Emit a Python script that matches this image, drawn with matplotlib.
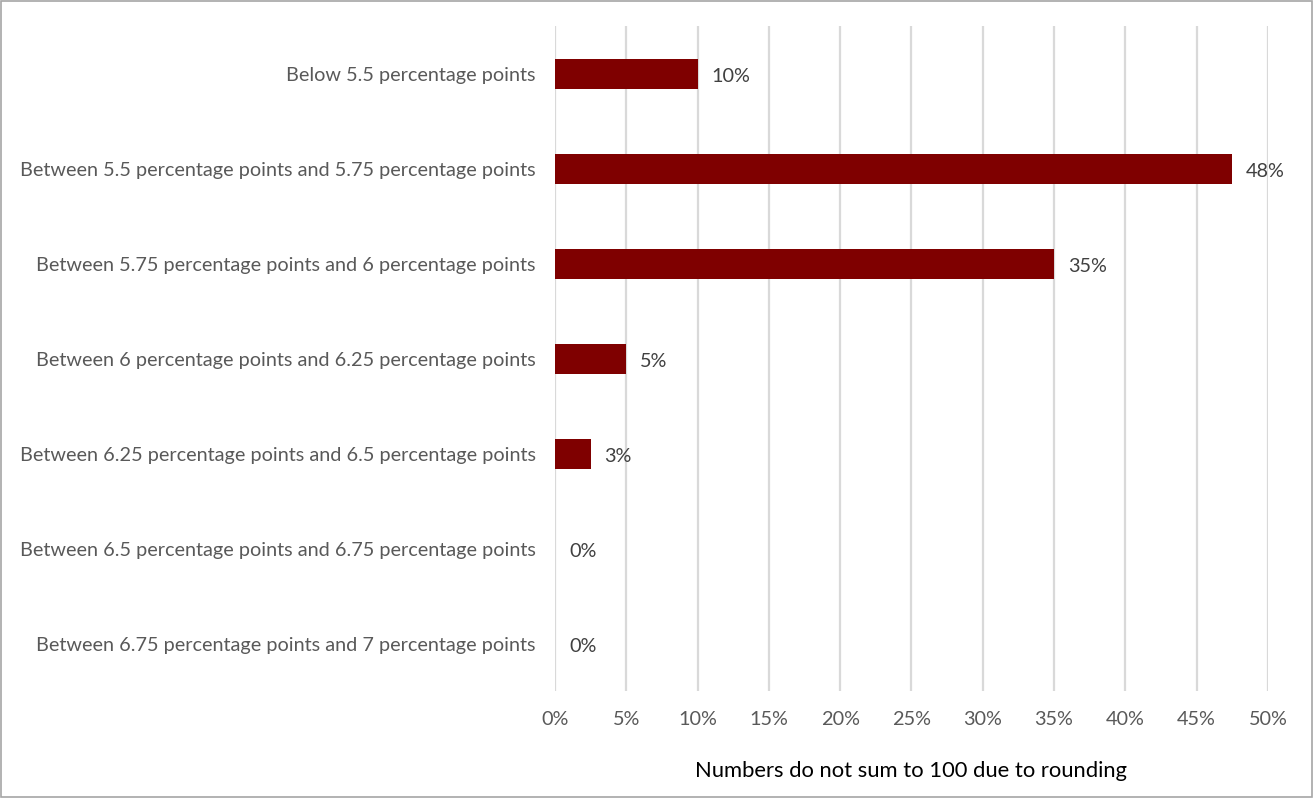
import matplotlib
matplotlib.use("Agg")
import matplotlib.pyplot as plt
from matplotlib.patches import Rectangle

categories = [
    "Below 5.5 percentage points",
    "Between 5.5 percentage points and 5.75 percentage points",
    "Between 5.75 percentage points and 6 percentage points",
    "Between 6 percentage points and 6.25 percentage points",
    "Between 6.25 percentage points and 6.5 percentage points",
    "Between 6.5 percentage points and 6.75 percentage points",
    "Between 6.75 percentage points and 7 percentage points",
]
values = [10, 47.5, 35, 5, 2.5, 0, 0]
value_labels = ["10%", "48%", "35%", "5%", "3%", "0%", "0%"]
xticks = [0, 5, 10, 15, 20, 25, 30, 35, 40, 45, 50]
xlabel = "Numbers do not sum to 100 due to rounding"

plt.rcParams['font.family'] = ['Lato', 'DejaVu Sans']

fig = plt.figure(figsize=(13.13, 7.98), dpi=100)
ax = fig.add_axes([0.4227, 0.1335, 0.9657 - 0.4227, 0.9668 - 0.1335])

ypos = list(range(len(categories)))
ax.barh(ypos, values, height=0.32, color="#7F0000", zorder=3)
for y, v, lab in zip(ypos, values, value_labels):
    ax.annotate(lab, (v, y), xytext=(10, -1.5), textcoords="offset points",
                va="center", ha="left", fontsize=14.3, color="#404040")

ax.set_xlim(0, 50)
ax.set_ylim(len(categories) - 0.5, -0.5)
ax.set_yticks(ypos)
ax.set_yticklabels(categories, fontsize=14.3, color="#595959")
ax.set_xticks(xticks)
ax.set_xticklabels([f"{t}%" for t in xticks], fontsize=14.3, color="#595959")
ax.tick_params(axis="both", length=0)
ax.tick_params(axis="y", pad=14)
ax.tick_params(axis="x", pad=14)
ax.grid(axis="x", color="#D9D9D9", linewidth=1.6, zorder=0)
for s in ax.spines.values():
    s.set_visible(False)
ax.set_xlabel(xlabel, fontsize=15.8, color="#000000", labelpad=24)

fig.patches.append(Rectangle((0.001, 0.001), 0.998, 0.998, transform=fig.transFigure,
                             fill=False, edgecolor="#A6A6A6", linewidth=1.2))

fig.savefig("out.png", dpi=100)
